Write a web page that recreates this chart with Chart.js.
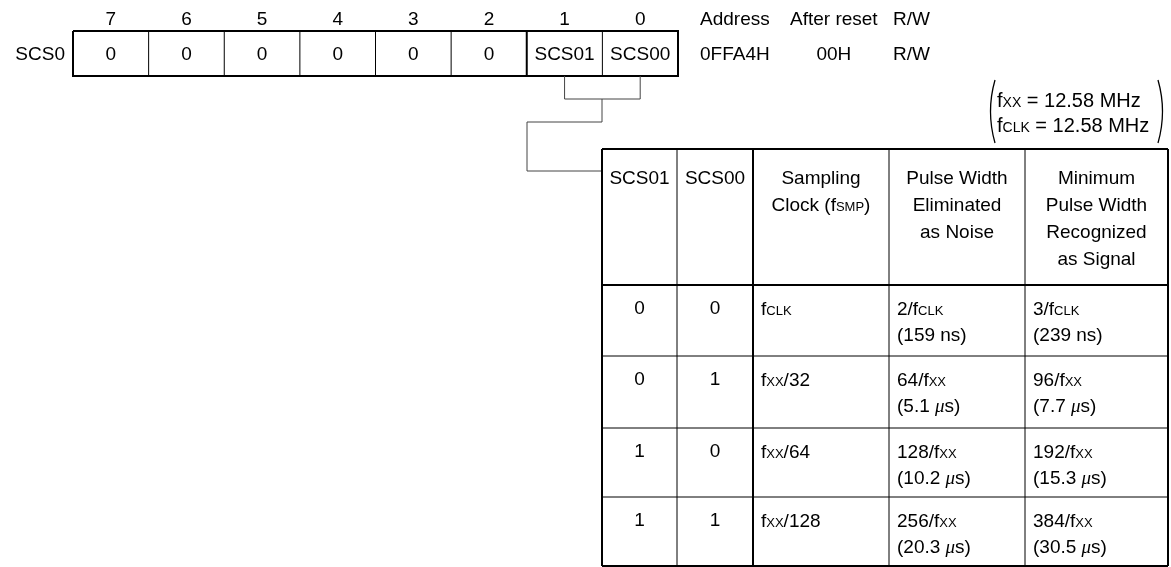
<!DOCTYPE html>
<html>
<head>
<meta charset="utf-8">
<title>SCS0 register</title>
<script src="https://cdn.jsdelivr.net/npm/chart.js@4/dist/chart.umd.min.js"></script>
<style>
  html, body { margin: 0; padding: 0; background: #fff; }
  #wrap { width: 1171px; height: 567px; }
  canvas { display: block; }
</style>
</head>
<body>
<div id="wrap"><canvas id="chart" width="1171" height="567"></canvas></div>
<script>
// Register SCS0 and noise elimination table

// Register contents
const regName = 'SCS0';
const bitNumbers = ['7', '6', '5', '4', '3', '2', '1', '0'];
const bitNames = ['0', '0', '0', '0', '0', '0', 'SCS01', 'SCS00'];
const infoHeads = ['Address', 'After reset', 'R/W'];
const infoValues = ['0FFA4H', '00H', 'R/W'];
const clockNote = ['f_{XX} = 12.58 MHz', 'f_{CLK} = 12.58 MHz'];

// Table contents
const tableHeads = [
  ['SCS01'],
  ['SCS00'],
  ['Sampling', 'Clock (f_{SMP})'],
  ['Pulse Width', 'Eliminated', 'as Noise'],
  ['Minimum', 'Pulse Width', 'Recognized', 'as Signal']
];
const colScs01 = ['0', '0', '1', '1'];
const colScs00 = ['0', '1', '0', '1'];
const samplingClock = ['f_{CLK}', 'f_{XX}/32', 'f_{XX}/64', 'f_{XX}/128'];
const noiseWidth = [
  ['2/f_{CLK}', '(159 ns)'],
  ['64/f_{XX}', '(5.1 μs)'],
  ['128/f_{XX}', '(10.2 μs)'],
  ['256/f_{XX}', '(20.3 μs)']
];
const signalWidth = [
  ['3/f_{CLK}', '(239 ns)'],
  ['96/f_{XX}', '(7.7 μs)'],
  ['192/f_{XX}', '(15.3 μs)'],
  ['384/f_{XX}', '(30.5 μs)']
];

// Layout (in scale units, 1 unit = 1 px)
const W = 1171, H = 567;
const FONT = '"Liberation Sans", Arial, sans-serif';
const FS = 19;
const reg = { left: 73, right: 678, top: 31, bottom: 76, bitY: 18 };
const infoX = [700, 790, 893];
const infoY = [18, 53];
const note = { left: 990, right: 1163, top: 80, bottom: 143, textX: 997, y: [100, 125], size: 20 };
const tbl = { cols: [602, 677, 753, 889, 1025, 1168], rows: [149, 285, 356, 428, 497, 566] };
const link = { y1: 99, y2: 122, y3: 171, x2: 527 };

function segs(str) {
  const out = [];
  const re = /_\{([^}]*)\}|μ|[^_μ]+/g;
  let m;
  while ((m = re.exec(str)) !== null) {
    if (m[1] !== undefined) out.push({ t: m[1], kind: 'sub' });
    else if (m[0] === 'μ') out.push({ t: 'μ', kind: 'mu' });
    else out.push({ t: m[0], kind: 'n' });
  }
  return out;
}
function fontFor(kind, fs) {
  if (kind === 'sub') return Math.round(fs * 0.68) + 'px ' + FONT;
  if (kind === 'mu') return 'italic ' + fs + 'px "Liberation Serif", serif';
  return fs + 'px ' + FONT;
}
// draw rich text; y is the visual middle of the caps
function rich(ctx, str, x, y, align, size) {
  const fs = size || FS;
  const parts = segs(str);
  let total = 0;
  parts.forEach(p => { ctx.font = fontFor(p.kind, fs); p.w = ctx.measureText(p.t).width; total += p.w; });
  let cx = align === 'center' ? x - total / 2 : align === 'right' ? x - total : x;
  const base = y + fs * 0.36;
  ctx.textAlign = 'left';
  ctx.textBaseline = 'alphabetic';
  parts.forEach(p => {
    ctx.font = fontFor(p.kind, fs);
    ctx.fillText(p.t, cx, base);
    cx += p.w;
  });
}

const diagram = {
  id: 'diagram',
  afterDraw(chart) {
    const ctx = chart.ctx;
    const X = v => chart.scales.x.getPixelForValue(v);
    const Y = v => chart.scales.y.getPixelForValue(v);
    const line = (pts, w, col) => {
      ctx.beginPath();
      ctx.lineWidth = w;
      ctx.strokeStyle = col || '#000';
      pts.forEach((p, i) => i ? ctx.lineTo(X(p[0]), Y(p[1])) : ctx.moveTo(X(p[0]), Y(p[1])));
      ctx.stroke();
    };
    ctx.save();
    ctx.fillStyle = '#000';

    // register
    const cellW = (reg.right - reg.left) / bitNumbers.length;
    const midY = (reg.top + reg.bottom) / 2;
    bitNumbers.forEach((b, i) => {
      const cx = reg.left + cellW * (i + 0.5);
      rich(ctx, b, X(cx), Y(reg.bitY), 'center');
      rich(ctx, bitNames[i], X(cx), Y(midY), 'center');
      if (i > 0) {
        const xx = reg.left + cellW * i;
        line([[xx, reg.top], [xx, reg.bottom]], i === 6 ? 2 : 1);
      }
    });
    line([[reg.left, reg.top], [reg.right, reg.top], [reg.right, reg.bottom], [reg.left, reg.bottom], [reg.left, reg.top]], 2);
    rich(ctx, regName, X(reg.left - 8), Y(midY), 'right');

    infoHeads.forEach((t, i) => rich(ctx, t, X(infoX[i]), Y(infoY[0]), 'left'));
    // values: address left, reset centred under its head, R/W left
    ctx.font = FS + 'px ' + FONT;
    const resetW = ctx.measureText(infoHeads[1]).width;
    rich(ctx, infoValues[0], X(infoX[0]), Y(infoY[1]), 'left');
    rich(ctx, infoValues[1], X(infoX[1]) + resetW / 2, Y(infoY[1]), 'center');
    rich(ctx, infoValues[2], X(infoX[2]), Y(infoY[1]), 'left');

    // clock note with parentheses
    clockNote.forEach((t, i) => rich(ctx, t, X(note.textX), Y(note.y[i]), 'left', note.size));
    const pm = (note.top + note.bottom) / 2;
    ctx.lineWidth = 1.3;
    ctx.strokeStyle = '#000';
    ctx.beginPath();
    ctx.moveTo(X(note.left + 5), Y(note.top));
    ctx.quadraticCurveTo(X(note.left - 4), Y(pm), X(note.left + 5), Y(note.bottom));
    ctx.stroke();
    ctx.beginPath();
    ctx.moveTo(X(note.right - 5), Y(note.top));
    ctx.quadraticCurveTo(X(note.right + 4), Y(pm), X(note.right - 5), Y(note.bottom));
    ctx.stroke();

    // connector from bits 1,0 to the table
    const c1 = reg.left + cellW * 6.5, c0 = reg.left + cellW * 7.5;
    const cm = tbl.cols[0];
    const gray = '#444';
    line([[c1, reg.bottom], [c1, link.y1], [c0, link.y1], [c0, reg.bottom]], 1, gray);
    line([[cm, link.y1], [cm, link.y2], [link.x2, link.y2], [link.x2, link.y3], [tbl.cols[0], link.y3]], 1, gray);

    // table grid
    const c = tbl.cols, r = tbl.rows;
    r.forEach((ry, i) => {
      const w = (i === 0 || i === 1 || i === r.length - 1) ? 2 : 1;
      line([[c[0], ry], [c[5], ry]], w);
    });
    c.forEach((cx, i) => {
      const w = (i === 0 || i === 2 || i === c.length - 1) ? 2 : 1;
      line([[cx, r[0]], [cx, r[r.length - 1]]], w);
    });

    // header text
    tableHeads.forEach((lines, i) => {
      const cx = (c[i] + c[i + 1]) / 2;
      lines.forEach((t, k) => rich(ctx, t, X(cx), Y(r[0] + 28 + k * 27), 'center'));
    });

    // body rows
    colScs01.forEach((v, j) => {
      const top = r[j + 1];
      rich(ctx, v, X((c[0] + c[1]) / 2), Y(top + 22), 'center');
      rich(ctx, colScs00[j], X((c[1] + c[2]) / 2), Y(top + 22), 'center');
      rich(ctx, samplingClock[j], X(c[2] + 8), Y(top + 23), 'left');
      noiseWidth[j].forEach((t, k) => rich(ctx, t, X(c[3] + 8), Y(top + 23 + k * 26), 'left'));
      signalWidth[j].forEach((t, k) => rich(ctx, t, X(c[4] + 8), Y(top + 23 + k * 26), 'left'));
    });
    ctx.restore();
  }
};

new Chart(document.getElementById('chart').getContext('2d'), {
  type: 'scatter',
  data: { datasets: [] },
  options: {
    responsive: false,
    animation: false,
    devicePixelRatio: 1,
    layout: { padding: 0 },
    scales: {
      x: { type: 'linear', min: 0, max: W, display: false },
      y: { type: 'linear', min: 0, max: H, reverse: true, display: false }
    },
    plugins: { legend: { display: false }, tooltip: { enabled: false } }
  },
  plugins: [diagram]
});
</script>
</body>
</html>
